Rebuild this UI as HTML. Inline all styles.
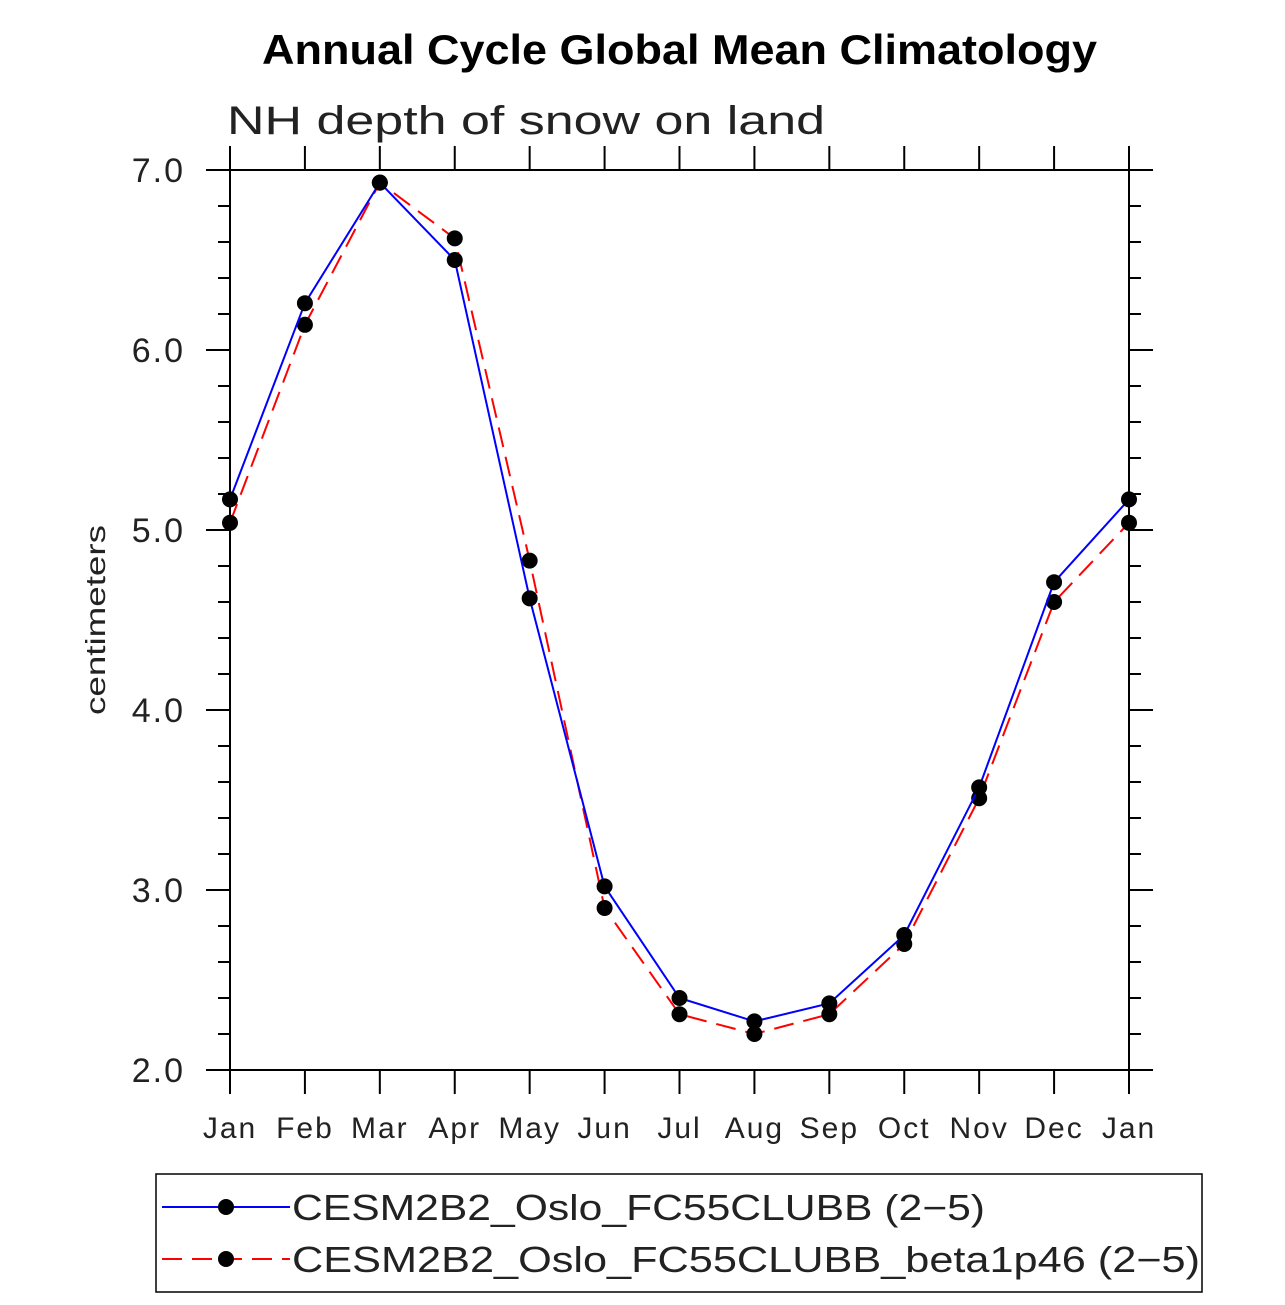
<!DOCTYPE html>
<html><head><meta charset="utf-8"><style>
body{margin:0;background:#fff}
svg text{font-family:"Liberation Sans",sans-serif}
</style></head><body>
<svg id="chart" width="1285" height="1300" xmlns="http://www.w3.org/2000/svg">
<text x="262" y="64" font-size="42" font-weight="bold" textLength="835" lengthAdjust="spacingAndGlyphs">Annual Cycle Global Mean Climatology</text>
<text x="227" y="134" font-size="40" fill="#222" textLength="598" lengthAdjust="spacingAndGlyphs">NH depth of snow on land</text>
<text transform="translate(105,620) rotate(-90)" font-size="28" text-anchor="middle" fill="#222" textLength="190" lengthAdjust="spacingAndGlyphs">centimeters</text>
<g id="axes"></g>
<g id="series"></g>
<rect x="156" y="1174" width="1046" height="118" fill="none" stroke="#000" stroke-width="1.5"/>
<g>
<line x1="162" y1="1207" x2="290" y2="1207" stroke="#00f" stroke-width="2"/>
<circle cx="226" cy="1207" r="8"/>
<text x="292" y="1220" font-size="36" fill="#222" textLength="693" lengthAdjust="spacingAndGlyphs">CESM2B2_Oslo_FC55CLUBB (2−5)</text>
</g>
<g>
<line x1="162" y1="1259" x2="290" y2="1259" stroke="#f00" stroke-width="2" stroke-dasharray="20,10"/>
<circle cx="226" cy="1259" r="8"/>
<text x="292" y="1272" font-size="36" fill="#222" textLength="908" lengthAdjust="spacingAndGlyphs">CESM2B2_Oslo_FC55CLUBB_beta1p46 (2−5)</text>
</g>
</svg>
<script>
const months=["Jan","Feb","Mar","Apr","May","Jun","Jul","Aug","Sep","Oct","Nov","Dec","Jan"];
const blueValues=[5.17,6.26,6.93,6.50,4.62,3.02,2.40,2.27,2.37,2.75,3.57,4.71,5.17];
const redValues=[5.04,6.14,6.93,6.62,4.83,2.90,2.31,2.20,2.31,2.70,3.51,4.60,5.04];
const yTicks=["2.0","3.0","4.0","5.0","6.0","7.0"];
const NS="http://www.w3.org/2000/svg";
const L=230,R=1129,T=170,B=1070,ymin=2,ymax=7;
const xs=i=>L+(R-L)*i/(months.length-1);
const ys=v=>B-(v-ymin)/(ymax-ymin)*(B-T);
function mk(tag,attrs,parent){const e=document.createElementNS(NS,tag);for(const k in attrs)e.setAttribute(k,attrs[k]);parent.appendChild(e);return e;}
const ax=document.getElementById('axes');
const frame=mk('rect',{x:L,y:T,width:R-L,height:B-T,fill:'none',stroke:'#000','stroke-width':2},ax);


months.forEach((m,i)=>{const x=xs(i);
mk('line',{x1:x,y1:B,x2:x,y2:B+24,stroke:'#000','stroke-width':2},ax);
mk('line',{x1:x,y1:T,x2:x,y2:T-24,stroke:'#000','stroke-width':2},ax);
const t=mk('text',{x:x,y:B+68,'font-size':30,'text-anchor':'middle',fill:'#222','letter-spacing':2},ax);t.textContent=m;

});
for(let v=ymin;v<=ymax+1e-9;v+=0.2){const y=ys(v);const major=Math.abs(v-Math.round(v))<1e-6;const len=major?24:12;
mk('line',{x1:L-len,y1:y,x2:L,y2:y,stroke:'#000','stroke-width':2},ax);
mk('line',{x1:R,y1:y,x2:R+len,y2:y,stroke:'#000','stroke-width':2},ax);}
yTicks.forEach(s=>{const y=ys(parseFloat(s));const t=mk('text',{x:185,y:y+12,'font-size':34,'text-anchor':'end',fill:'#222','letter-spacing':2},ax);t.textContent=s;

});
const sg=document.getElementById('series');
function series(vals,color,dash,name){
const p=mk('polyline',{points:vals.map((v,i)=>xs(i)+','+ys(v)).join(' '),fill:'none',stroke:color,'stroke-width':2,'stroke-dasharray':dash},sg);


vals.forEach((v,i)=>{const c=mk('circle',{cx:xs(i),cy:ys(v),r:8,fill:'#000'},sg);

});}
series(redValues,'#f00','20,10','red-series');
series(blueValues,'#00f','none','blue-series');
</script>
</body></html>
